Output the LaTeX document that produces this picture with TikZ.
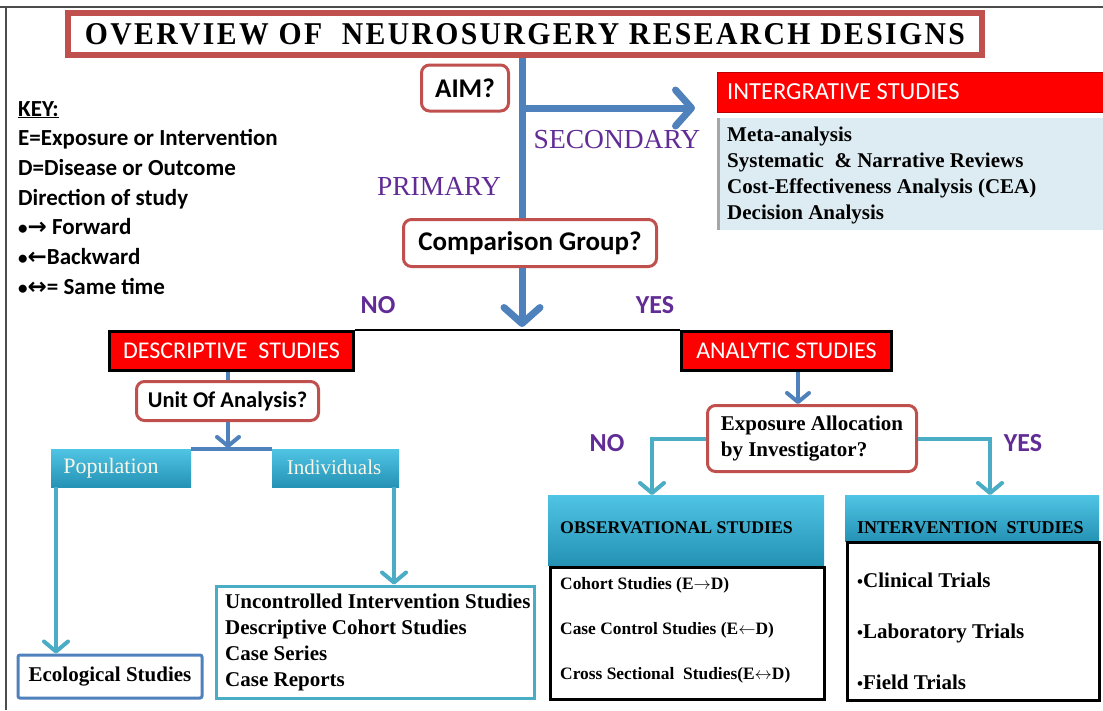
\documentclass[tikz,border=0pt]{standalone}
\usepackage{fontspec}
\setmainfont{Liberation Serif}
\newfontfamily\calib{Carlito}
\newfontfamily\titlefont[LetterSpace=8]{Liberation Serif}
\newfontfamily\dejavu{DejaVu Sans}
\usepackage{graphicx}
\usetikzlibrary{arrows.meta,calc}
\definecolor{boxred}{RGB}{192,80,77}
\definecolor{mainblue}{RGB}{79,129,189}
\definecolor{cyanln}{RGB}{75,172,198}
\definecolor{tealtop}{RGB}{80,196,228}
\definecolor{tealbot}{RGB}{36,146,180}
\definecolor{purp}{RGB}{98,44,150}
\definecolor{paleblue}{RGB}{221,236,242}
\definecolor{cream}{RGB}{250,246,232}
\newcommand{\keybul}{{\fontsize{19}{19}\selectfont\textbullet}}
\newcommand{\listbul}{{\fontsize{17}{17}\selectfont\textbullet}}
\newcommand{\keyarr}[1]{{\dejavu\bfseries\fontsize{23}{23}\selectfont #1}}
\begin{document}
\begin{tikzpicture}[x=1pt,y=-1pt,
  question/.style={draw=boxred, line width=3pt, rounded corners=8pt, fill=white, inner sep=0pt},
  redhead/.style={draw=black, line width=3pt, fill=red, text=white, inner sep=0pt, font=\calib\fontsize{24}{28}\selectfont},
  tealbox/.style={top color=tealtop, bottom color=tealbot, inner sep=0pt},
  bigarrow/.style={draw=mainblue, line width=7pt, -{Straight Barb[length=16pt,width=36pt,round]}},
  bigline/.style={draw=mainblue, line width=7pt},
  midline/.style={draw=mainblue, line width=4pt},
  midarrow/.style={draw=mainblue, line width=4pt, -{Straight Barb[length=9pt,width=22pt,round]}},
  cyanarrow/.style={draw=cyanln, line width=4pt, -{Straight Barb[length=10pt,width=24pt,round]}},
  keytext/.style={font=\calib\bfseries\fontsize{23}{29.7}\selectfont, align=left, inner sep=0pt},
  sfq/.style={font=\calib\bfseries\fontsize{27}{30}\selectfont},
  serb/.style={font=\bfseries\fontsize{21}{26}\selectfont},
  purplab/.style={text=purp, font=\calib\bfseries\fontsize{26}{28}\selectfont, inner sep=0pt},
  purser/.style={text=purp, font=\fontsize{27.5}{30}\selectfont, inner sep=0pt},
  poptext/.style={text=cream, font=\fontsize{22}{24}\selectfont, inner sep=0pt}
]
\useasboundingbox (0,0) rectangle (1103,710);
\fill[white] (0,0) rectangle (1103,710);
% frame
\draw[gray!60!black, line width=2pt] (0,7) -- (1103,7);
\draw[gray!60!black, line width=2pt] (6,7) -- (6,710);

% title
\node[draw=boxred, line width=6pt, fill=white, minimum width=914pt, minimum height=42pt, inner sep=0pt] (title) at (525,34)
  {\resizebox{880pt}{21pt}{\titlefont\bfseries OVERVIEW OF\ \ NEUROSURGERY RESEARCH DESIGNS}};

% key
\node[keytext, anchor=north west] (key) at (18,101) {\underline{KEY:}\\
E=Exposure or Intervention\\
D=Disease or Outcome\\
Direction of study\\
\keybul\keyarr{→} Forward\\
\keybul\keyarr{←}Backward\\
\keybul\keyarr{↔}= Same time};

% aim and comparison
\node[question, sfq, minimum width=87pt, minimum height=46pt] (aim) at (465,88) {AIM?};
\node[question, sfq, minimum width=253pt, minimum height=47pt] (comp) at (530,243) {Comparison Group?};
\coordinate (spine) at (522,0);

% integrative
\node[fill=red, draw=red!75!black, line width=1pt, minimum width=386pt, minimum height=40pt, inner sep=0pt, anchor=north west] (integh) at (717,72) {};
\node[anchor=west, text=white, font=\calib\fontsize{24.5}{28}\selectfont, inner sep=0pt] (integt) at (727,92) {INTERGRATIVE STUDIES};
\node[fill=paleblue, minimum width=386pt, minimum height=112pt, inner sep=0pt, anchor=north west] (integb) at (717,118) {};
\fill[gray!70] (integb.north west) rectangle ++(3,112);
\node[serb, anchor=west, align=left, inner sep=0pt] (integl) at (727,175) {Meta-analysis\\
Systematic \ \& Narrative Reviews\\
Cost-Effectiveness Analysis (CEA)\\
Decision Analysis};

% labels
\node[purser] (sec) at (617,140) {SECONDARY};
\node[purser] (prim) at (439,186) {PRIMARY};
\node[purplab] (no1) at (378,305) {NO};
\node[purplab] (yes1) at (655,305) {YES};

% spine
\draw[bigline] (title.south -| spine) -- (comp.north -| spine);
\coordinate (secstart) at (526,108);
\draw[bigarrow] (secstart) -- ($(integh.west |- secstart)+(-22,0)$);
\coordinate (split) at (522,327);
\draw[bigarrow] (comp.south -| spine) -- (split);

% descriptive / analytic
\node[redhead, minimum width=244pt, minimum height=39pt] (desc) at (231.5,351) {DESCRIPTIVE\ \ STUDIES};
\node[redhead, minimum width=210pt, minimum height=39pt] (anal) at (786.5,351) {ANALYTIC STUDIES};
\draw[black, line width=2.5pt] (desc.north east) -- (anal.north west);

% unit of analysis
\node[question, minimum width=182pt, minimum height=39pt, font=\calib\bfseries\fontsize{22.5}{26}\selectfont] (unit) at (227.5,401) {Unit Of Analysis?};
\coordinate (ux) at (228,0);
\draw[midline] (desc.south -| ux) -- (unit.north -| ux);
\coordinate (join) at (228,448);
\draw[midarrow] (unit.south -| ux) -- (join);

% population / individuals
\node[tealbox, minimum width=140pt, minimum height=38pt, anchor=north west] (pop) at (51,449) {};
\node[poptext] (popt) at (111,468) {Population};
\node[tealbox, minimum width=127pt, minimum height=38pt, anchor=north west] (ind) at (272,449) {};
\node[poptext, font=\fontsize{21}{24}\selectfont] (indt) at (334,467) {Individuals};
\draw[midline] (pop.north east) -- (ind.north west);

% ecological / uncontrolled
\node[draw=mainblue, line width=3pt, rounded corners=2pt, minimum width=184pt, minimum height=43pt, inner sep=0pt, anchor=north west, serb] (eco) at (16.5,653.5) {Ecological Studies};
\node[draw=cyanln, line width=3pt, minimum width=318pt, minimum height=112pt, anchor=north west, inner sep=0pt] (unc) at (214.5,584.5) {};
\node[serb, anchor=west, align=left, inner sep=0pt] (uncl) at (225,642) {Uncontrolled Intervention Studies\\
Descriptive Cohort Studies\\
Case Series\\
Case Reports};
\coordinate (popx) at (56,0);
\draw[cyanarrow] (pop.south -| popx) -- (eco.north -| popx);
\coordinate (indx) at (394,0);
\draw[cyanarrow] (ind.south -| indx) -- (unc.north -| indx);

% exposure allocation
\node[question, minimum width=209pt, minimum height=66pt, serb, align=left] (expo) at (812,438.5) {Exposure Allocation\\by Investigator?};
\coordinate (ax) at (798,0);
\draw[midarrow] (anal.south -| ax) -- (expo.north -| ax);
\node[purplab] (no2) at (607,443) {NO};
\node[purplab] (yes2) at (1023,443) {YES};

% observational
\node[tealbox, minimum width=276pt, minimum height=70pt, anchor=north west] (obsh) at (548,495) {};
\node[anchor=west, inner sep=0pt, font=\bfseries\fontsize{17.8}{20}\selectfont] (obst) at (560,528) {OBSERVATIONAL STUDIES};
\node[draw=black, line width=2.5pt, fill=white, minimum width=274pt, minimum height=132pt, anchor=north west, inner sep=0pt] (obsb) at (549,566) {};
\node[anchor=west, align=left, inner sep=0pt, font=\bfseries\fontsize{17.4}{45}\selectfont] (obsl) at (560,630) {Cohort Studies (E$\rightarrow$D)\\
Case Control Studies (E$\leftarrow$D)\\
Cross Sectional \ Studies(E$\leftrightarrow$D)};

% intervention
\node[tealbox, minimum width=254pt, minimum height=46pt, anchor=north west] (inth) at (845,495) {};
\node[anchor=west, inner sep=0pt, font=\bfseries\fontsize{18}{20}\selectfont] (intt) at (857,528) {INTERVENTION \ STUDIES};
\node[draw=black, line width=2.5pt, fill=white, minimum width=252pt, minimum height=158pt, anchor=north west, inner sep=0pt] (intb) at (846,541) {};
\node[anchor=west, align=left, inner sep=0pt, font=\bfseries\fontsize{21}{51}\selectfont] (intl) at (857,631) {\listbul Clinical Trials\\
\listbul Laboratory Trials\\
\listbul Field Trials};

\coordinate (nox) at (652,0);
\coordinate (yesx) at (990,0);
\draw[cyanarrow] (expo.west) -| (nox |- obsh.north);
\draw[cyanarrow] (expo.east) -| (yesx |- inth.north);
\end{tikzpicture}
\end{document}
